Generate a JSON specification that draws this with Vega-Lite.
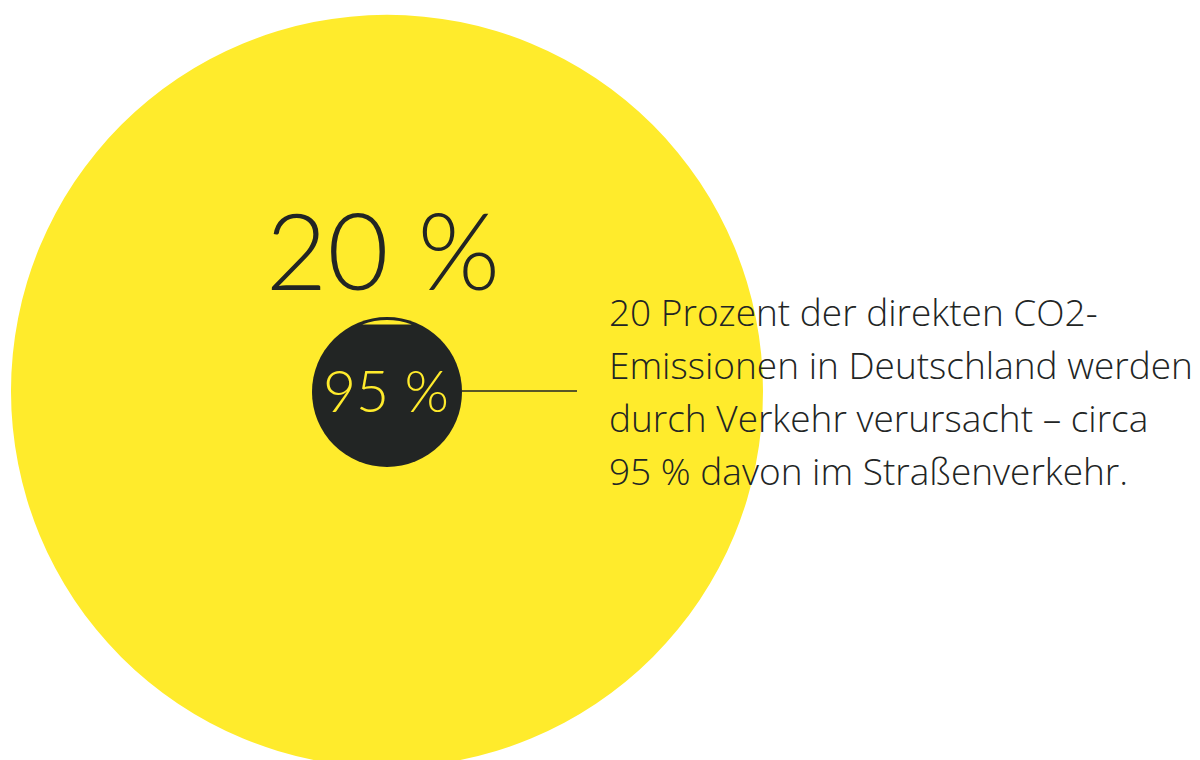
{
  "$schema": "https://vega.github.io/schema/vega-lite/v6.json",
  "width": 1200,
  "height": 760,
  "autosize": "none",
  "padding": 0,
  "background": "#ffffff",
  "config": {"view": {"stroke": null}},
  "datasets": {
    "circles": [
      {"part": "Verkehr", "x": 387, "y": 391},
      {"part": "Straßenverkehr", "x": 387, "y": 392}
    ],
    "texts": [
      {"line": 1, "text": "20 Prozent der direkten CO2-", "x": 609, "y": 326},
      {"line": 2, "text": "Emissionen in Deutschland werden", "x": 609, "y": 379},
      {"line": 3, "text": "durch Verkehr verursacht – circa", "x": 609, "y": 432},
      {"line": 4, "text": "95 % davon im Straßenverkehr.", "x": 609, "y": 485}
    ]
  },
  "layer": [
    {
      "data": {"name": "circles"},
      "transform": [{"filter": "datum.part === 'Verkehr'"}],
      "mark": {"type": "point", "shape": "circle", "filled": true, "opacity": 1, "color": "#FFEB2C", "size": 565504, "strokeWidth": 0},
      "encoding": {
        "x": {"field": "x", "type": "quantitative", "scale": {"domain": [0, 1200], "nice": false, "zero": false}, "axis": null},
        "y": {"field": "y", "type": "quantitative", "scale": {"domain": [0, 760], "nice": false, "zero": false, "reverse": true}, "axis": null}
      }
    },
    {
      "data": {"name": "circles"},
      "transform": [{"filter": "datum.part === 'Straßenverkehr'"}],
      "mark": {"type": "point", "shape": "circle", "filled": true, "opacity": 1, "color": "#222524", "size": 22500, "strokeWidth": 0},
      "encoding": {
        "x": {"field": "x", "type": "quantitative"},
        "y": {"field": "y", "type": "quantitative"}
      }
    },
    {
      "data": {"name": "circles"},
      "transform": [{"filter": "datum.part === 'Straßenverkehr'"}],
      "mark": {"type": "point", "shape": "M -0.33 -0.9 A 0.96 0.96 0 0 1 0.33 -0.9 Z", "filled": true, "opacity": 1, "color": "#FFEB2C", "size": 22500, "strokeWidth": 0},
      "encoding": {
        "x": {"field": "x", "type": "quantitative"},
        "y": {"field": "y", "type": "quantitative"}
      }
    },
    {
      "data": {"values": [{"x": 462, "x2": 577, "y": 391}]},
      "mark": {"type": "rule", "color": "#222524", "strokeWidth": 1.3},
      "encoding": {
        "x": {"field": "x", "type": "quantitative"},
        "x2": {"field": "x2"},
        "y": {"field": "y", "type": "quantitative"}
      }
    },
    {
      "data": {"values": [{"label": "20 %", "x": 383, "y": 290}]},
      "mark": {"type": "text", "align": "center", "baseline": "alphabetic", "font": "Lato", "fontWeight": 300, "fontSize": 106, "color": "#222524"},
      "encoding": {
        "x": {"field": "x", "type": "quantitative"},
        "y": {"field": "y", "type": "quantitative"},
        "text": {"field": "label"}
      }
    },
    {
      "data": {"values": [{"label": "95 %", "x": 386, "y": 412}]},
      "mark": {"type": "text", "align": "center", "baseline": "alphabetic", "font": "Lato", "fontWeight": 300, "fontSize": 57, "color": "#FFEB2C"},
      "encoding": {
        "x": {"field": "x", "type": "quantitative"},
        "y": {"field": "y", "type": "quantitative"},
        "text": {"field": "label"}
      }
    },
    {
      "data": {"name": "texts"},
      "mark": {"type": "text", "align": "left", "baseline": "alphabetic", "font": "Open Sans", "fontWeight": 300, "fontSize": 37, "color": "#222524"},
      "encoding": {
        "x": {"field": "x", "type": "quantitative"},
        "y": {"field": "y", "type": "quantitative"},
        "text": {"field": "text"}
      }
    }
  ]
}
